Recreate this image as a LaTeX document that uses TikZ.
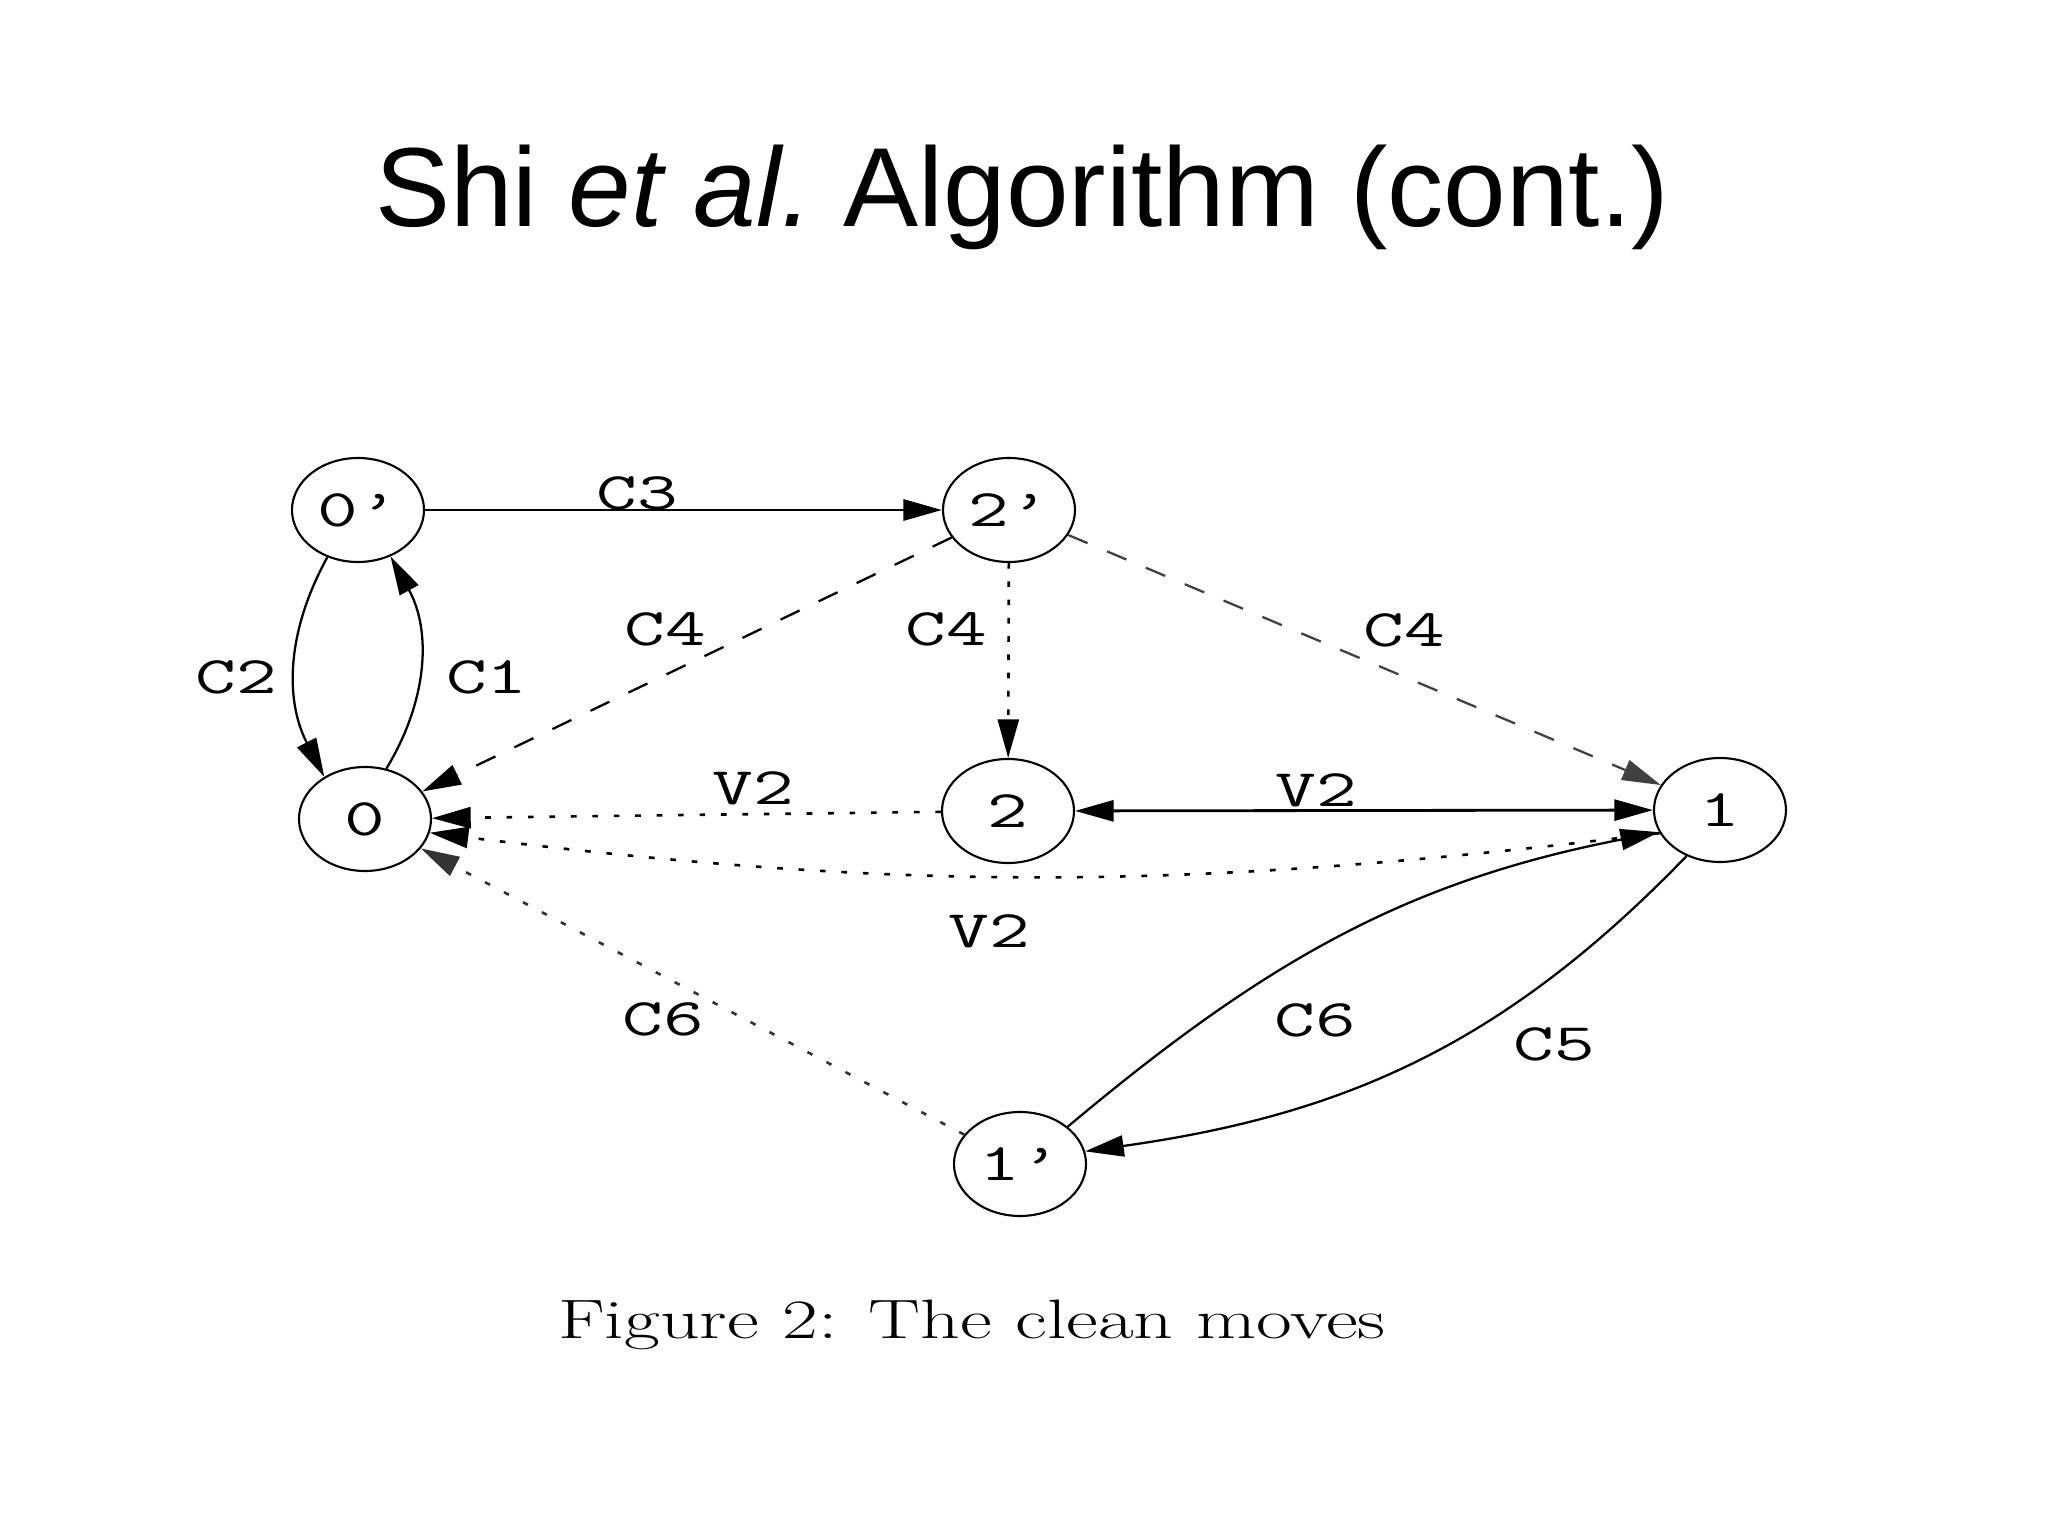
\documentclass[tikz,border=0pt]{standalone}
\usepackage{fontspec}
\newfontfamily\titlefont{Liberation Sans}
\usetikzlibrary{shapes, arrows.meta, positioning}

\newcommand{\tts}[1]{\scalebox{1.5}[1]{\ttfamily\fontsize{15}{15}\selectfont #1}}

\begin{document}
\begin{tikzpicture}[
    >={Triangle[length=11pt, width=6pt]},
    state/.style={ellipse, draw, line width=0.6pt, minimum width=1.32cm,
                  minimum height=1.04cm, inner sep=0pt},
    edge/.style={line width=0.65pt, ->},
    cdash/.style={dash pattern=on 6pt off 6pt},
    vdot/.style={dash pattern=on 1.6pt off 4.5pt, line width=0.75pt}
    ]
    \path[use as bounding box, fill=white] (0,0) rectangle (20.48,-15.36);

    \node[font=\titlefont\fontsize{32}{38}\selectfont, anchor=base] (title) at (10.22,-2.27)
        {Shi \textit{et al.}\ Algorithm (cont.)};

    % states
    \node[state] (n0p) at (3.58,-5.10) {\tts{0’}};
    \node[state] (n2p) at (10.09,-5.10) {\tts{2’}};
    \node[state] (n0) at (3.65,-8.19) {\tts{0}};
    \node[state] (n2) at (10.08,-8.11) {\tts{2}};
    \node[state] (n1) at (17.20,-8.10) {\tts{1}};
    \node[state] (n1p) at (10.20,-11.64) {\tts{1’}};

    % moves
    \draw[edge, line width=0.85pt] (n0p) -- (n2p);
    \draw[edge] (n0p.-123) to[bend right=28] (n0.134);
    \draw[edge] (n0.67) to[bend right=30] (n0p.-55);
    \draw[edge, cdash] (n2p) -- (n0);
    \draw[edge, dash pattern=on 1.6pt off 3.6pt, line width=0.75pt] (n2p) -- (n2);
    \draw[edge, cdash, black!75] (n2p) -- (n1);
    \draw[edge, vdot] (n2) -- (n0);
    \draw[edge, <->, line width=0.8pt] (n2) -- (n1);
    \draw[edge, vdot] (n1.-159) to[bend left=7] (n0.-12);
    \draw[edge, vdot, black!80] (n1p) -- (n0);
    \draw[edge] (n1p.38) to[out=40, in=191] (n1.-160);
    \draw[edge] (n1.-126) to[out=-134, in=8] (n1p.11);

    % labels
    \node (lc3) at (6.37,-4.93) {\tts{C3}};
    \node (lc2) at (2.36,-6.77) {\tts{C2}};
    \node (lc1) at (4.87,-6.77) {\tts{C1}};
    \node (lc4a) at (6.65,-6.29) {\tts{C4}};
    \node (lc4b) at (9.46,-6.29) {\tts{C4}};
    \node (lc4c) at (14.04,-6.30) {\tts{C4}};
    \node (lv2a) at (7.53,-7.88) {\tts{V2}};
    \node (lv2b) at (13.16,-7.90) {\tts{V2}};
    \node (lv2c) at (9.89,-9.31) {\tts{V2}};
    \node (lc6a) at (6.63,-10.19) {\tts{C6}};
    \node (lc6b) at (13.15,-10.20) {\tts{C6}};
    \node (lc5) at (15.54,-10.44) {\tts{C5}};

    \node[anchor=base] (caption) at (9.72,-13.38)
        {\scalebox{1.4}[1]{\fontsize{15.8}{18}\selectfont Figure 2: The clean moves}};
\end{tikzpicture}
\end{document}
